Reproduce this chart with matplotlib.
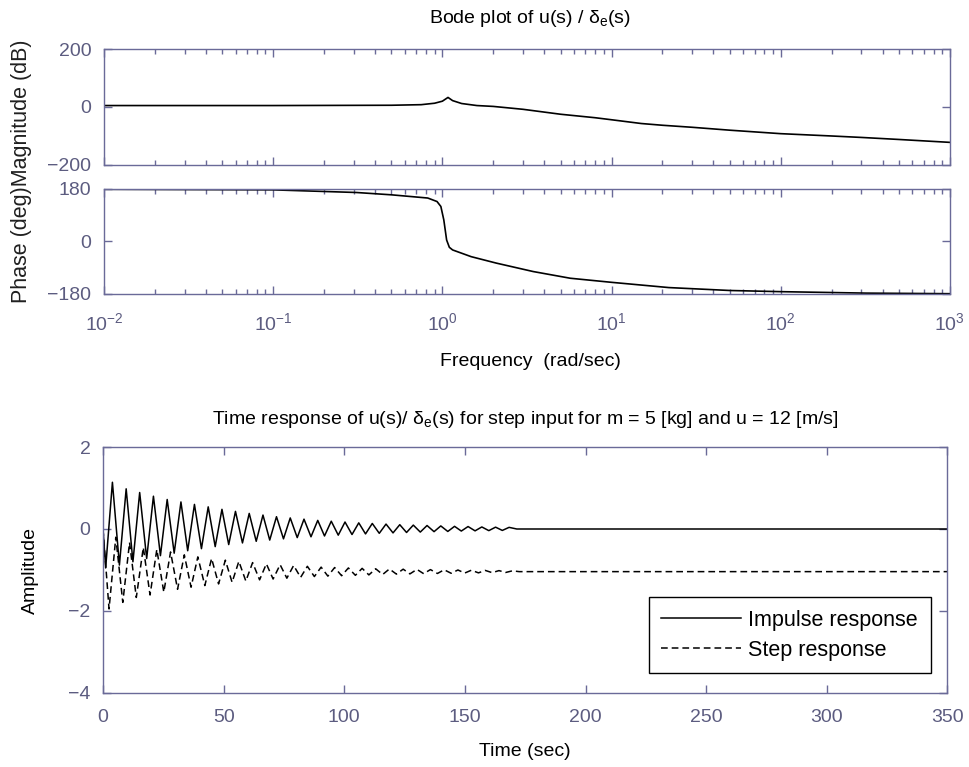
import numpy as np
import matplotlib
matplotlib.use('Agg')
import matplotlib.pyplot as plt

plt.rcParams['font.family'] = ['Liberation Sans', 'DejaVu Sans']
plt.rcParams['mathtext.fontset'] = 'custom'
plt.rcParams['mathtext.rm'] = 'Liberation Sans'
plt.rcParams['mathtext.it'] = 'Liberation Sans'
plt.rcParams['font.size'] = 14

# --- Bode data ---
mag_w = [0.01, 0.1, 0.5, 0.75, 0.9, 1.0, 1.08, 1.15, 1.3, 1.6, 2, 3, 5, 8, 10,
         15, 20, 30, 50, 100, 200, 300, 500, 1000]
mag_db = [5, 5, 6, 8, 13, 20, 33, 22, 12, 5, 2, -8, -25, -37, -44,
          -57, -63, -70, -80, -92, -100, -105, -112, -122]

phase_w = [0.01, 0.1, 0.31, 0.5, 0.82, 0.93, 0.98, 1.02, 1.06, 1.1, 1.15, 1.48,
           2.08, 3.44, 5.7, 10, 21.8, 50, 100, 318, 1000]
phase_deg = [179, 177, 168, 160, 149, 137, 120, 74, 5, -20, -29, -52,
             -74, -103, -126, -140, -158, -168, -172, -177, -179]

# --- time response extrema ---
imp_peak_t = [3.9, 9.6, 15.2, 20.9, 26.6, 32.3, 37.9, 43.6, 49.3, 54.9, 60.6, 66.3,
              71.9, 77.6, 83.3, 89.0, 94.6, 100.3, 106.0, 111.6, 117.3, 123.0, 128.6,
              134.3, 140.0, 145.7, 151.3, 157.0, 162.7, 168.3]
imp_peak_v = [1.14, 0.98, 0.89, 0.80, 0.72, 0.66, 0.60, 0.54, 0.48, 0.43, 0.38, 0.34,
              0.30, 0.27, 0.24, 0.21, 0.19, 0.17, 0.15, 0.135, 0.12, 0.105, 0.095,
              0.085, 0.075, 0.065, 0.06, 0.05, 0.045, 0.04]
imp_trough_t = [1.1, 6.8, 12.4, 18.1, 23.8, 29.5, 35.1, 40.8, 46.5, 52.1, 57.8, 63.5,
                69.1, 74.8, 80.5, 86.2, 91.8, 97.5, 103.2, 108.8, 114.5, 120.2, 125.8,
                131.5, 137.2, 142.9, 148.5, 154.2, 159.9, 165.5]
imp_trough_v = [-0.95, -0.88, -0.80, -0.72, -0.65, -0.59, -0.53, -0.48, -0.43, -0.38,
                -0.34, -0.30, -0.27, -0.24, -0.21, -0.19, -0.17, -0.15, -0.135, -0.12,
                -0.105, -0.095, -0.085, -0.075, -0.065, -0.06, -0.05, -0.045, -0.04, -0.035]
imp_start_t, imp_start_v = [0.0], [0.0]
imp_end_t, imp_end_v = [171.5, 350.0], [0.0, 0.0]

step_trough_t = [2.5, 8.2, 13.8, 19.5, 25.2, 30.9, 36.5, 42.2, 47.9, 53.5, 59.2, 64.9,
                 70.5, 76.2, 81.9, 87.6, 93.2, 98.9, 104.6, 110.2, 115.9, 121.6, 127.2,
                 132.9, 138.6, 144.3, 149.9, 155.6, 161.3, 166.9]
step_trough_v = [-1.95, -1.79, -1.67, -1.61, -1.54, -1.47, -1.42, -1.38, -1.34, -1.30,
                 -1.27, -1.24, -1.22, -1.20, -1.18, -1.16, -1.15, -1.14, -1.13, -1.12,
                 -1.11, -1.10, -1.095, -1.09, -1.085, -1.08, -1.075, -1.07, -1.065, -1.06]
step_peak_t = [5.3, 11.0, 16.7, 22.3, 28.0, 33.7, 39.3, 45.0, 50.7, 56.3, 62.0, 67.7,
               73.4, 79.0, 84.7, 90.4, 96.0, 101.7, 107.4, 113.0, 118.7, 124.4, 130.1,
               135.7, 141.4, 147.1, 152.7, 158.4, 164.1, 169.7]
step_peak_v = [-0.20, -0.33, -0.45, -0.50, -0.56, -0.63, -0.68, -0.72, -0.76, -0.79,
               -0.82, -0.85, -0.87, -0.89, -0.91, -0.93, -0.94, -0.95, -0.96, -0.97,
               -0.975, -0.98, -0.985, -0.99, -0.995, -1.0, -1.005, -1.01, -1.015, -1.02]
step_start_t, step_start_v = [0.0], [0.0]
step_end_t, step_end_v = [172.5, 350.0], [-1.04, -1.04]

time_ticks = [0, 50, 100, 150, 200, 250, 300, 350]
amp_ticks = [-4, -2, 0, 2]


def merge(*pairs):
    t = np.concatenate([p[0] for p in pairs])
    v = np.concatenate([p[1] for p in pairs])
    order = np.argsort(t)
    return t[order], v[order]


imp_t, imp_v = merge((imp_start_t, imp_start_v), (imp_peak_t, imp_peak_v),
                     (imp_trough_t, imp_trough_v), (imp_end_t, imp_end_v))
step_t, step_v = merge((step_start_t, step_start_v), (step_peak_t, step_peak_v),
                       (step_trough_t, step_trough_v), (step_end_t, step_end_v))

axis_col = '#6a6a98'
label_col = '#5c5c80'


def matlab_style(ax):
    for s in ax.spines.values():
        s.set_color(axis_col)
        s.set_linewidth(1.0)
    ax.tick_params(which='both', direction='in', top=True, right=True,
                   color=axis_col, labelcolor=label_col, width=1.0)
    ax.tick_params(which='major', length=5.5)
    ax.tick_params(which='minor', length=3.5)
    ax.tick_params(axis='y', pad=9)


fig = plt.figure(figsize=(9.69, 7.67), dpi=100)

ax_mag = fig.add_axes([0.1073, 0.7849, 0.873, 0.1512])
ax_mag.semilogx(mag_w, mag_db, color='black', lw=1.2)
ax_mag.set_xlim(1e-2, 1e3)
ax_mag.set_ylim(-200, 200)
ax_mag.set_yticks([-200, 0, 200])
ax_mag.tick_params(axis='x', which='both', labelbottom=False)
matlab_style(ax_mag)

ax_ph = fig.add_axes([0.1073, 0.6167, 0.873, 0.1369])
ax_ph.semilogx(phase_w, phase_deg, color='black', lw=1.2)
ax_ph.set_xlim(1e-2, 1e3)
ax_ph.set_ylim(-180, 180)
ax_ph.set_yticks([-180, 0, 180])
matlab_style(ax_ph)
ax_ph.tick_params(axis='x', pad=13)

ax_t = fig.add_axes([0.1063, 0.0965, 0.8715, 0.3207])
ax_t.plot(imp_t, imp_v, color='black', lw=1.1, label='Impulse response')
ax_t.plot(step_t, step_v, color='black', lw=1.1, dashes=(4.4, 2.6), label='Step response')
ax_t.set_xlim(0, 350)
ax_t.set_ylim(-4, 2)
ax_t.set_xticks(time_ticks)
ax_t.set_yticks(amp_ticks)
matlab_style(ax_t)
ax_t.tick_params(axis='x', pad=11.5)
leg = ax_t.legend(loc='lower right', bbox_to_anchor=(0.98, 0.081), borderaxespad=0,
                  fancybox=False, edgecolor='black', framealpha=1, fontsize=15.5,
                  handlelength=3.7, labelspacing=0.42, borderpad=0.58, handletextpad=0.35)
leg.get_frame().set_linewidth(1.0)

fig.text(530 / 969, 1 - 23 / 767, 'Bode plot of u(s) / δ$_\\mathrm{e}$(s)', ha='center', va='baseline')
fig.text(22 / 969, 1 - 171 / 767, 'Phase (deg)Magnitude (dB)', rotation=90,
         ha='center', va='center', color='#202020', fontsize=15.5)
fig.text(530 / 969, 1 - 366 / 767, 'Frequency  (rad/sec)', ha='center', va='baseline')
fig.text(525 / 969, 1 - 424 / 767,
         'Time response of u(s)/ δ$_\\mathrm{e}$(s) for step input for m = 5 [kg] and u = 12 [m/s]',
         ha='center', va='baseline')
fig.text(30 / 969, 1 - 570 / 767, 'Amplitude', rotation=90, ha='center', va='center')
fig.text(525 / 969, 1 - 756 / 767, 'Time (sec)', ha='center', va='baseline')

fig.savefig('out.png', dpi=100)
